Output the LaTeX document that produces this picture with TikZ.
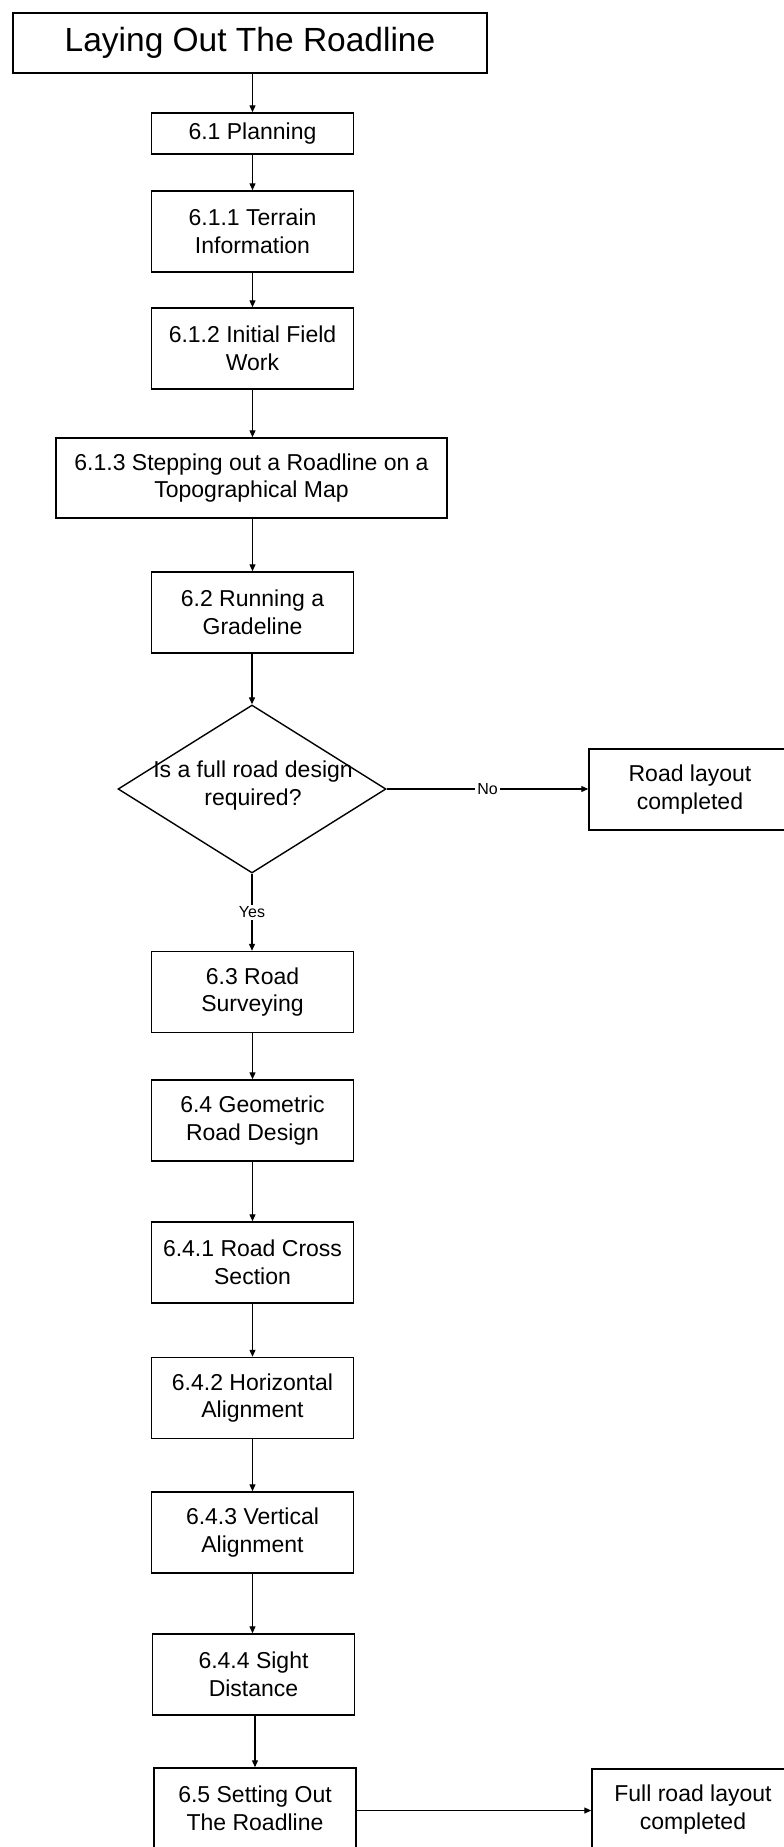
\documentclass[tikz,border=0pt]{standalone}
\usepackage{fontspec}
\setmainfont{Liberation Sans}
\usetikzlibrary{shapes.geometric,arrows.meta}

\begin{document}
\begin{tikzpicture}[x=1pt,y=-1pt,
  box/.style={draw, line width=1.5pt, minimum width=202pt, minimum height=81pt,
    inner sep=0pt, align=center, font=\fontsize{23}{27.5}\selectfont},
  titlebox/.style={draw, line width=1.5pt, minimum width=474pt, minimum height=60pt,
    inner sep=0pt, font=\fontsize{33.5}{40}\selectfont},
  decision/.style={draw, shape=diamond, line width=1.4pt, minimum width=268pt,
    minimum height=168pt, inner sep=0pt},
  qlabel/.style={align=center, inner sep=0pt, font=\fontsize{23}{28}\selectfont},
  flow/.style={draw, line width=1.3pt, -{Triangle[length=7pt,width=6pt]}},
  branch/.style={fill=white, inner sep=2pt, font=\fontsize{16}{18}\selectfont}]

  \useasboundingbox[fill=white] (0,0) rectangle (784,1847);

  % main column
  \node[titlebox] (title) at (250,43) {Laying Out The Roadline};
  \node[box, minimum height=41pt] (plan) at (252.5,133.5) {6.1 Planning};
  \node[box] (terrain) at (252.5,231.5) {6.1.1 Terrain\\Information};
  \node[box] (field) at (252.5,348.5) {6.1.2 Initial Field\\Work};
  \node[box, minimum width=391pt, minimum height=80pt] (map) at (251.5,478)
    {6.1.3 Stepping out a Roadline on a\\Topographical Map};
  \node[box] (grade) at (252.5,612.5) {6.2 Running a\\Gradeline};

  % decision
  \node[decision] (q) at (252,789) {};
  \node[qlabel] (qtext) at (253,786) {Is a full road design\\required?};
  \node[box] (short) at (690,789.5) {Road layout\\completed};

  \node[box] (survey) at (252.5,992) {6.3 Road\\Surveying};
  \node[box] (geo) at (252.5,1120.5) {6.4 Geometric\\Road Design};
  \node[box] (cross) at (252.5,1262.5) {6.4.1 Road Cross\\Section};
  \node[box] (horiz) at (252.5,1398) {6.4.2 Horizontal\\Alignment};
  \node[box] (vert) at (252.5,1532.5) {6.4.3 Vertical\\Alignment};
  \node[box] (sight) at (253.5,1674.5) {6.4.4 Sight\\Distance};
  \node[box] (setout) at (255,1808.5) {6.5 Setting Out\\The Roadline};
  \node[box] (full) at (693,1809.5) {Full road layout\\completed};

  % connectors
  \draw[flow] (plan.north |- title.south) -- (plan.north);
  \draw[flow] (plan) -- (terrain);
  \draw[flow] (terrain) -- (field);
  \draw[flow] (field) -- (field.south |- map.north);
  \draw[flow] (grade.north |- map.south) -- (grade);
  \draw[flow] (grade.south -| q.north) -- (q.north);
  \draw[flow] (q.east) -- node[branch] (nolbl) {No} (q.east -| short.west);
  \draw[flow] (q.south) -- node[branch] (yeslbl) {Yes} (q.south |- survey.north);
  \draw[flow] (survey) -- (geo);
  \draw[flow] (geo) -- (cross);
  \draw[flow] (cross) -- (horiz);
  \draw[flow] (horiz) -- (vert);
  \draw[flow] (vert) -- (vert.south |- sight.north);
  \draw[flow] (sight.south -| setout.north) -- (setout.north);
  \draw[flow] ([yshift=-2pt]setout.east) -- ([yshift=-2pt]setout.east -| full.west);
\end{tikzpicture}
\end{document}
